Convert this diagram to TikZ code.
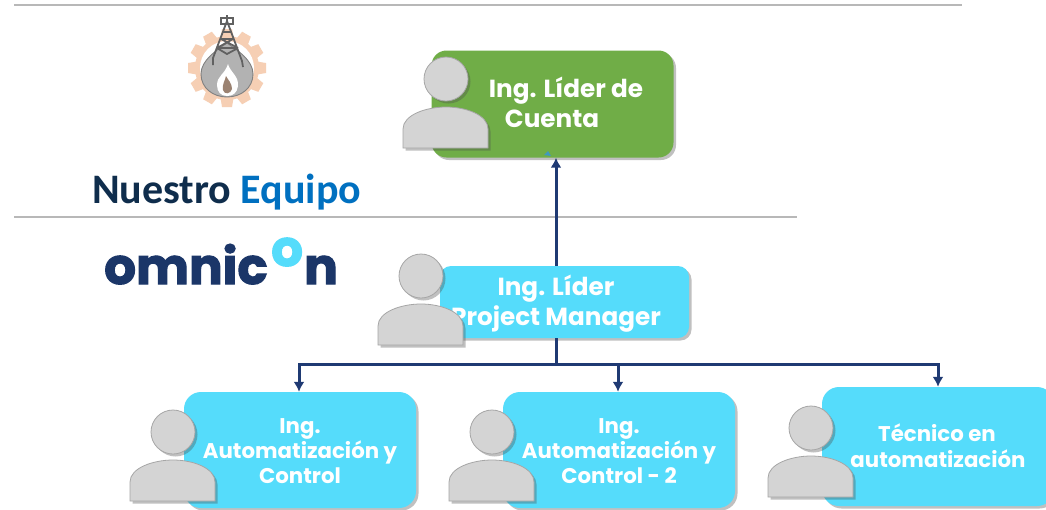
\documentclass[tikz,border=0pt]{standalone}
\usepackage{fontspec}
\setmainfont{Poppins}
\newfontfamily\titlefont{Carlito}
\newfontfamily\logofont{Poppins}[BoldFeatures={FakeBold=2.2}]
\usetikzlibrary{arrows.meta,shadows,calc}
\definecolor{leadgreen}{HTML}{70AD47}
\definecolor{skybox}{HTML}{55DCFB}
\definecolor{navyline}{HTML}{1F3A73}
\definecolor{personfill}{HTML}{D4D4D4}
\definecolor{personedge}{HTML}{A6A6A6}
\definecolor{titledark}{HTML}{0F2D4C}
\definecolor{titleblue}{HTML}{0070C0}
\definecolor{logonavy}{HTML}{1B3668}
\definecolor{gearpeach}{HTML}{F6CFB4}
\definecolor{rulegray}{HTML}{B8B8B8}
\tikzset{
  softshadow/.style={drop shadow={shadow xshift=2.5pt,shadow yshift=-2.5pt,opacity=.35,fill=black!70}},
  rolebox/.style={draw=none,rounded corners=#1,inner sep=0pt,softshadow},
  boxtext/.style={text=white,font=\bfseries\fontsize{21.3}{24}\selectfont,inner sep=0pt,anchor=base},
  bigtext/.style={boxtext,font=\bfseries\fontsize{24.7}{26}\selectfont},
  conn/.style={draw=navyline,line width=3pt,-{Latex[length=10pt,width=11pt]}},
  busline/.style={draw=navyline,line width=3pt},
  rulel/.style={draw=rulegray,line width=1.2pt},
  logotext/.style={anchor=base west,inner sep=0pt,font=\logofont\bfseries\fontsize{50}{50}\selectfont},
  personshape/.style={fill=personfill,draw=personedge,line width=.8pt,softshadow},
  pics/person/.style={code={
    \path[personshape] (0,0) circle (22);
    \path[personshape] (-43,69) -- (-43,50) .. controls (-43,36) and (-20,28) .. (0,28)
       .. controls (20,28) and (42,36) .. (42,50) -- (42,69) -- cycle;
  }}
}
\begin{document}
\begin{tikzpicture}[x=1pt,y=-1pt]
\useasboundingbox[fill=white] (0,0) rectangle (1046,509);
% rules
\coordinate (r1a) at (14,5); \coordinate (r1b) at (962,5);
\coordinate (r2a) at (14,217); \coordinate (r2b) at (797,217);
\draw[rulel] (r1a) -- (r1b);
\draw[rulel] (r2a) -- (r2b);
% gear logo
\begin{scope}[shift={(227,68)}]
  \foreach \a in {0,30,...,330}{
    \fill[gearpeach,rotate=\a] (-5,-39) -- (5,-39) -- (6.5,-30) -- (-6.5,-30) -- cycle;
  }
  \fill[gearpeach] (0,0) circle (32);
  \fill[white] (0,0) circle (27);
  \path[fill=black!30,draw=black!50,line width=.9pt] (0,-25) .. controls (10,-18) and (26,-8) .. (26,6)
     .. controls (26,20) and (14,29) .. (0,29) .. controls (-14,29) and (-26,20) .. (-26,6)
     .. controls (-26,-8) and (-10,-18) .. (0,-25) -- cycle;
  \fill[white] (1,-4) .. controls (3,4) and (12,8) .. (11,18) .. controls (10,25) and (6,28) .. (0,28)
     .. controls (-6,28) and (-10,24) .. (-10,17) .. controls (-10,8) and (-2,6) .. (1,-4) -- cycle;
  \fill[black!30!gearpeach!90!black] (-1,8) .. controls (1,12) and (5,15) .. (5,21) .. controls (4,26) and (-3,27) .. (-4,22)
     .. controls (-5,16) and (-2,13) .. (-1,8) -- cycle;
  \draw[black!62,line width=1.8pt,line join=round] (0,-47) -- (-14,-10) -- (-14,-3) (0,-47) -- (15,-7) -- (16,-1)
     (-4,-36) -- (4,-36) (-6,-29) -- (6,-29) (-10,-20) -- (11,-20)
     (-6,-29) -- (11,-20) (6,-29) -- (-10,-20) (-10,-20) -- (0,-14) -- (11,-20);
  \draw[black!62,line width=1.4pt] (-6,-50) rectangle (6,-44) (0,-53) -- (0,-44);
\end{scope}
% title
\node[anchor=base west,inner sep=0pt,font=\titlefont\bfseries\fontsize{42}{44}\selectfont] (title) at (92,203.5)
   {\textcolor{titledark}{Nuestro} \textcolor{titleblue}{Equipo}};
% omnicon
\node[logotext,text=logonavy] (omni) at (104,284) {omnic};
\node[logotext,text=skybox] (omnio) at (271,266) {o};
\node[logotext,text=logonavy] (omnin) at (304,284) {n};
% boxes
\node[rolebox=15pt,fill=leadgreen,minimum width=242pt,minimum height=107pt] (lead) at (552.5,104) {};
\node[rolebox=11pt,fill=skybox,minimum width=249pt,minimum height=72pt] (pm) at (564.5,302) {};
\node[rolebox=17pt,fill=skybox,minimum width=232pt,minimum height=116pt] (auto1) at (300,450) {};
\node[rolebox=17pt,fill=skybox,minimum width=232pt,minimum height=116pt] (auto2) at (619,450) {};
\node[rolebox=17pt,fill=skybox,minimum width=232pt,minimum height=119pt] (tech) at (938,446.5) {};
% small marker
\fill[blue!30!cyan!50!gray] (544,155) -- (548,151) -- (551,156) -- cycle;
% connectors
\coordinate (bus) at (556,364);
\draw[conn] (bus |- pm.north) -- (bus |- lead.south);
\draw[busline] (bus |- pm.south) -- (bus);
\coordinate (busL) at (299,364);
\coordinate (busM) at (618,364);
\coordinate (busR) at (938,364);
\draw[conn] (bus) -- (busL) -- (busL |- auto1.north);
\draw[conn] (bus) -- (busM) -- (busM |- auto2.north);
\draw[conn] (busM) -- (busR) -- (busR |- tech.north);
% texts
\node[bigtext] (t1a) at (566,97) {Ing. Líder de};
\node[bigtext] (t1b) at (552,127) {Cuenta};
\node[bigtext] (t2a) at (556,295) {Ing. Líder};
\node[bigtext] (t2b) at (556,325) {Project Manager};
\node[boxtext] (t3a) at (300,433) {Ing.};
\node[boxtext] (t3b) at (300,458) {Automatización y};
\node[boxtext] (t3c) at (300,483) {Control};
\node[boxtext] (t4a) at (619,433) {Ing.};
\node[boxtext] (t4b) at (619,458) {Automatización y};
\node[boxtext] (t4c) at (619,483) {Control - 2};
\node[boxtext] (t5a) at (937,441) {Técnico en};
\node[boxtext] (t5b) at (938,467) {automatización};
% people
\pic at (446,79) {person};
\pic at (421,276) {person};
\pic at (173,432) {person};
\pic at (492,432) {person};
\pic at (811,428) {person};
\end{tikzpicture}
\end{document}
